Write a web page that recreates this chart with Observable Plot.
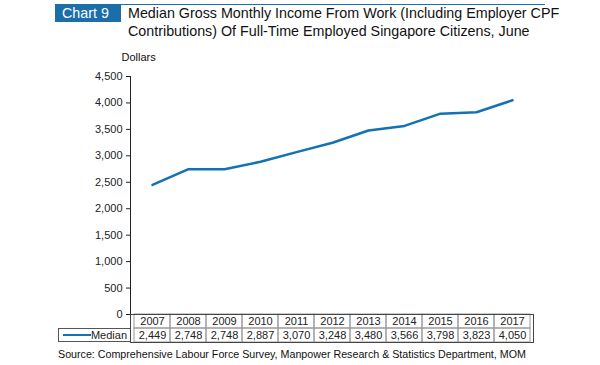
<!DOCTYPE html>
<html>
<head>
<meta charset="utf-8">
<script src="https://cdn.jsdelivr.net/npm/d3@7"></script>
<script src="https://cdn.jsdelivr.net/npm/@observablehq/plot@0.6"></script>
<style>
  html, body { margin: 0; padding: 0; background: #fff; }
  body { font-family: "Liberation Sans", Arial, sans-serif; }
  #wrap { position: relative; width: 600px; height: 365px; overflow: hidden; }
  #topline { position: absolute; left: 121px; top: 4px; width: 424px; height: 1px; background: #1b6ea8; }
  #badge { position: absolute; left: 55px; top: 4px; width: 66px; height: 18px; background: #1b6ea8; color: #fff;
           font-size: 14.3px; line-height: 18px; box-sizing: border-box; padding-left: 7px; }
  #title { position: absolute; left: 128px; top: 4px; font-size: 14.3px; line-height: 18px; color: #111; white-space: nowrap; }
  #main { position: absolute; left: 0; top: 45px; }
  #table { position: absolute; left: 0; top: 313px; }
  #legend { position: absolute; left: 58px; top: 328px; width: 72px; height: 14px; box-sizing: border-box;
            border: 1px solid #555; border-right: none; font-size: 11px; line-height: 12px; color: #222; }
  #legend .sw { position: absolute; left: 4px; top: 5px; width: 28px; height: 2px; background: #1272b3; }
  #legend .lb { position: absolute; right: 3px; top: 0px; }
  #source { position: absolute; left: 58px; top: 348px; font-size: 10.7px; color: #111; white-space: nowrap; }
</style>
</head>
<body>
<div id="wrap">
  <div id="topline"></div>
  <div id="badge">Chart 9</div>
  <div id="title">Median Gross Monthly Income From Work (Including Employer CPF<br>Contributions) Of Full-Time Employed Singapore Citizens, June</div>
  <div id="main"></div>
  <div id="table"></div>
  <div id="legend"><div class="sw"></div><div class="lb">Median</div></div>
  <div id="source">Source: Comprehensive Labour Force Survey, Manpower Research &amp; Statistics Department, MOM</div>
</div>
<script>
const years = ["2007","2008","2009","2010","2011","2012","2013","2014","2015","2016","2017"];
const median = [2449, 2748, 2748, 2887, 3070, 3248, 3480, 3566, 3798, 3823, 4050];
const yTicks = [0, 500, 1000, 1500, 2000, 2500, 3000, 3500, 4000, 4500];
const seriesName = "Median";
const yLabel = "Dollars";

const data = years.map((y, i) => ({year: y, value: median[i]}));
const fmt = d3.format(",");
const font = {fontFamily: "'Liberation Sans', Arial, sans-serif", fontSize: "11px", color: "#222", background: "transparent", overflow: "visible"};
const blue = "#1272b3";

const main = Plot.plot({
  width: 600, height: 278,
  marginLeft: 130, marginRight: 67, marginTop: 31, marginBottom: 9,
  style: font,
  x: {type: "point", domain: years, padding: 0.5, axis: null},
  y: {domain: [0, 4500], ticks: yTicks, tickFormat: fmt, tickSize: 4, tickPadding: 4, label: null, line: true},
  marks: [
    Plot.text([yLabel], {frameAnchor: "top-left", text: d => d, dx: -9, dy: -23, textAnchor: "start", fontSize: 11, fill: "#111"}),
    Plot.line(data, {x: "year", y: "value", stroke: blue, strokeWidth: 2.5})
  ]
});
document.getElementById("main").appendChild(main);

const rows = [];
years.forEach((y, i) => {
  rows.push({year: y, row: "year", label: y});
  rows.push({year: y, row: "value", label: fmt(median[i])});
});

const table = Plot.plot({
  width: 600, height: 30,
  marginLeft: 130, marginRight: 67, marginTop: 1, marginBottom: 1,
  style: font,
  x: {type: "band", domain: years, padding: 0, axis: null},
  y: {type: "band", domain: ["year", "value"], padding: 0, axis: null},
  marks: [
    Plot.cell(rows, {x: "year", y: "row", fill: "none", stroke: "#999", strokeWidth: 1}),
    Plot.frame({stroke: "#444"}),
    Plot.text(rows, {x: "year", y: "row", text: "label", fill: "#222", fontSize: 11})
  ]
});
document.getElementById("table").appendChild(table);
</script>
</body>
</html>
